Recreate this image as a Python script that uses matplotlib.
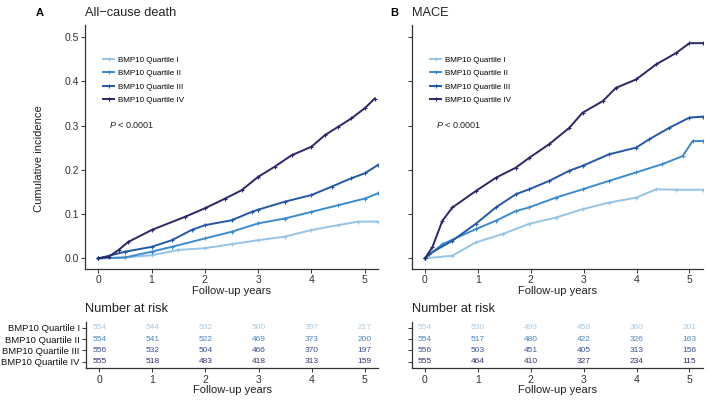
import matplotlib
matplotlib.use("Agg")
import matplotlib.pyplot as plt
import numpy as np

plt.rcParams['font.family'] = ['Liberation Sans', 'DejaVu Sans']
plt.rcParams['mathtext.fontset'] = 'custom'
plt.rcParams['mathtext.it'] = 'Liberation Sans:italic'
plt.rcParams['mathtext.rm'] = 'Liberation Sans'

groups = ["BMP10 Quartile I", "BMP10 Quartile II", "BMP10 Quartile III", "BMP10 Quartile IV"]
colors = ["#94c4e8", "#3b8bd0", "#2358a8", "#2a2868"]
table_colors = ["#a9cbe6", "#4a86c0", "#3b4f92", "#3a2f72"]

# Panel A: All-cause death (time in years, cumulative incidence)
a_q1_t = [0, 0.5, 1.0, 1.5, 2.0, 2.5, 3.0, 3.5, 4.0, 4.5, 4.88, 5.25]
a_q1_v = [0, 0.002, 0.007, 0.019, 0.023, 0.032, 0.041, 0.049, 0.064, 0.075, 0.083, 0.083]
a_q2_t = [0, 0.5, 1.0, 1.38, 2.0, 2.5, 3.0, 3.5, 4.0, 4.5, 5.0, 5.25]
a_q2_v = [0, 0.002, 0.015, 0.026, 0.045, 0.060, 0.079, 0.090, 0.105, 0.120, 0.135, 0.147]
a_q3_t = [0, 0.5, 1.0, 1.38, 1.75, 2.0, 2.5, 2.88, 3.0, 3.5, 4.0, 4.38, 4.75, 5.0, 5.25]
a_q3_v = [0, 0.015, 0.026, 0.041, 0.064, 0.075, 0.086, 0.105, 0.110, 0.128, 0.143, 0.162, 0.181, 0.192, 0.211]
a_q4_t = [0, 0.2, 0.38, 0.56, 1.0, 1.63, 2.0, 2.38, 2.69, 3.0, 3.31, 3.63, 4.0, 4.25, 4.5, 4.75, 5.0, 5.19]
a_q4_v = [0, 0.004, 0.019, 0.037, 0.064, 0.094, 0.113, 0.135, 0.154, 0.184, 0.207, 0.233, 0.252, 0.278, 0.297, 0.316, 0.339, 0.361]

# Panel B: MACE
b_q1_t = [0, 0.52, 0.96, 1.47, 1.97, 2.47, 2.98, 3.48, 3.99, 4.37, 4.75, 5.25]
b_q1_v = [0, 0.006, 0.036, 0.055, 0.078, 0.092, 0.111, 0.126, 0.137, 0.156, 0.155, 0.155]
b_q2_t = [0, 0.33, 0.96, 1.34, 1.72, 1.97, 2.47, 2.98, 3.48, 3.99, 4.49, 4.87, 5.06, 5.25]
b_q2_v = [0, 0.032, 0.066, 0.085, 0.107, 0.115, 0.137, 0.156, 0.175, 0.194, 0.213, 0.231, 0.265, 0.265]
b_q3_t = [0, 0.08, 0.52, 0.96, 1.34, 1.72, 1.97, 2.35, 2.73, 2.98, 3.48, 3.99, 4.24, 4.62, 5.0, 5.25]
b_q3_v = [0, 0.010, 0.040, 0.078, 0.115, 0.145, 0.156, 0.175, 0.198, 0.209, 0.235, 0.250, 0.269, 0.295, 0.318, 0.320]
b_q4_t = [0, 0.14, 0.33, 0.52, 0.96, 1.34, 1.72, 1.97, 2.35, 2.73, 2.98, 3.36, 3.61, 3.99, 4.37, 4.75, 5.0, 5.25]
b_q4_v = [0, 0.025, 0.085, 0.115, 0.152, 0.182, 0.205, 0.227, 0.258, 0.295, 0.329, 0.355, 0.385, 0.404, 0.438, 0.464, 0.486, 0.486]

risk_times = [0, 1, 2, 3, 4, 5]
risk_a_q1 = [554, 544, 532, 500, 397, 217]
risk_a_q2 = [554, 541, 522, 469, 373, 200]
risk_a_q3 = [556, 532, 504, 466, 370, 197]
risk_a_q4 = [555, 518, 483, 418, 313, 159]
risk_b_q1 = [554, 530, 499, 458, 360, 201]
risk_b_q2 = [554, 517, 480, 422, 326, 163]
risk_b_q3 = [556, 503, 451, 405, 313, 156]
risk_b_q4 = [555, 464, 410, 327, 234, 115]

y_ticks = [0.0, 0.1, 0.2, 0.3, 0.4, 0.5]

W, H = 709, 400
fig = plt.figure(figsize=(W / 100, H / 100), dpi=100)

def fr(x0, y0, x1, y1):
    return [x0 / W, 1 - y1 / H, (x1 - x0) / W, (y1 - y0) / H]

axA = fig.add_axes(fr(85, 25, 378, 269))
axB = fig.add_axes(fr(411.7, 25, 702.7, 269))
tabA = fig.add_axes(fr(86, 322, 378, 368.3))
tabB = fig.add_axes(fr(411.7, 322, 702.7, 368.3))

tick_col = "#333333"
spine_col = "#333333"

def style(ax):
    for s in ["top", "right"]:
        ax.spines[s].set_visible(False)
    for s in ["left", "bottom"]:
        ax.spines[s].set_color(spine_col)
        ax.spines[s].set_linewidth(0.9)
    ax.tick_params(axis="both", length=3, width=0.7, color=spine_col,
                   labelsize=7.5, labelcolor=tick_col, pad=1.5)

curvesA = [(a_q1_t, a_q1_v), (a_q2_t, a_q2_v), (a_q3_t, a_q3_v), (a_q4_t, a_q4_v)]
curvesB = [(b_q1_t, b_q1_v), (b_q2_t, b_q2_v), (b_q3_t, b_q3_v), (b_q4_t, b_q4_v)]

for ax, curves, labels in [(axA, curvesA, True), (axB, curvesB, False)]:
    style(ax)
    handles = []
    for (t, v), c, g in zip(curves, colors, groups):
        h, = ax.plot(t, v, color=c, lw=1.4, marker="+", ms=3.5, mew=0.8, label=g)
        handles.append(h)
    ax.set_xlim(-0.25, 5.25)
    ax.set_ylim(-0.024, 0.527)
    ax.set_xticks(risk_times)
    ax.set_yticks(y_ticks)
    if labels:
        ax.set_yticklabels([f"{v:.1f}" for v in y_ticks])
    else:
        ax.set_yticklabels([])
    ax.set_xlabel("Follow-up years", fontsize=8, color="#222222", labelpad=0.5)
    x_anchor = 103 if labels else 430
    ax.legend(handles=handles, loc="upper left",
              bbox_to_anchor=(x_anchor / W, 1 - 56 / H),
              bbox_transform=fig.transFigure, frameon=False, fontsize=5.8,
              handlelength=1.4, handletextpad=0.5, labelspacing=0.72,
              borderpad=0, borderaxespad=0)
    px = 109 if labels else 436
    fig.text(px / W, 1 - 125 / H, r"$P$ < 0.0001", fontsize=6.5, va="center",
             ha="left", color="#222222")

fig.text(39 / W, 1 - 159 / H, "Cumulative incidence", fontsize=8, rotation=90,
         va="center", ha="center", color="#222222")

risksA = [risk_a_q1, risk_a_q2, risk_a_q3, risk_a_q4]
risksB = [risk_b_q1, risk_b_q2, risk_b_q3, risk_b_q4]
rows = [4, 3, 2, 1]
for ax, risks, labels in [(tabA, risksA, True), (tabB, risksB, False)]:
    style(ax)
    ax.set_xlim(-0.25, 5.25)
    ax.set_ylim(0.42, 4.5)
    ax.set_xticks(risk_times)
    ax.set_yticks(rows)
    if labels:
        ax.set_yticklabels(groups, fontsize=6.8, color="#111111")
    else:
        ax.set_yticklabels([])
    for r, vals, c in zip(rows, risks, table_colors):
        for t, n in zip(risk_times, vals):
            ax.text(t, r, str(n), ha="center", va="center", fontsize=6, color=c)
    ax.set_xlabel("Follow-up years", fontsize=8, color="#222222", labelpad=0)

# titles
fig.text(36 / W, 1 - 13 / H, "A", fontsize=8, fontweight="bold", va="center", ha="left")
fig.text(85 / W, 1 - 13 / H, "All\u2212cause death", fontsize=9.2, va="center", ha="left", color="#222222")
fig.text(390 / W, 1 - 13 / H, "B", fontsize=8, fontweight="bold", va="center", ha="left")
fig.text(411.7 / W, 1 - 13 / H, "MACE", fontsize=9.2, va="center", ha="left", color="#222222")
fig.text(85 / W, 1 - 309 / H, "Number at risk", fontsize=9.2, va="center", ha="left", color="#222222")
fig.text(412 / W, 1 - 309 / H, "Number at risk", fontsize=9.2, va="center", ha="left", color="#222222")

fig.savefig("out.png", dpi=100)
